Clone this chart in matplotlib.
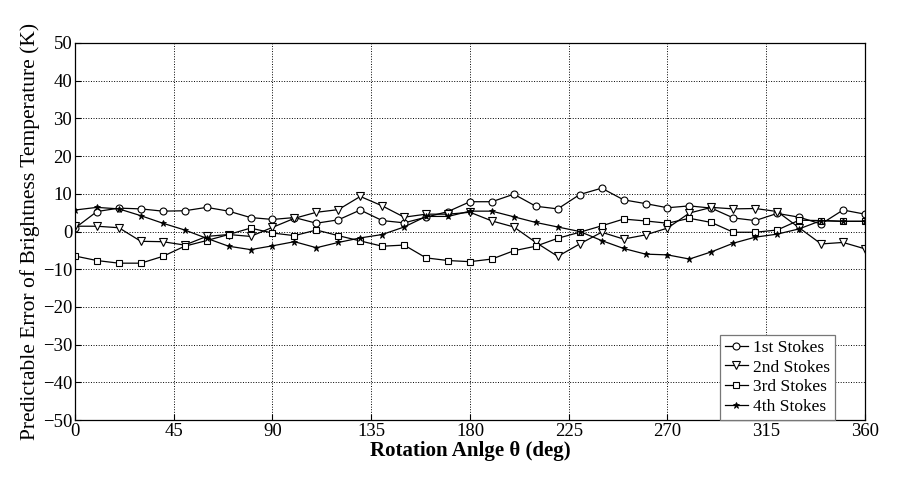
import matplotlib
matplotlib.use("Agg")
import matplotlib.pyplot as plt
import numpy as np

angles = list(range(0, 361, 10))

stokes1 = [0.9, 5.3, 6.2, 6.0, 5.4, 5.5, 6.4, 5.4, 3.7, 3.2,
           3.7, 2.2, 3.1, 5.7, 2.9, 2.3, 3.8, 5.3, 7.9, 7.9,
           9.9, 6.7, 6.0, 9.8, 11.5, 8.4, 7.4, 6.3, 6.8, 6.2,
           3.6, 2.9, 4.8, 3.8, 2.0, 5.7, 4.6]
stokes2 = [1.4, 1.4, 1.0, -2.6, -2.7, -3.6, -1.3, -0.8, -1.3, 1.1,
           3.5, 5.1, 5.8, 9.3, 6.8, 3.8, 4.6, 4.6, 5.1, 2.8,
           1.2, -2.9, -6.6, -3.3, -0.2, -2.0, -0.9, 0.9, 4.9, 6.4,
           6.0, 6.1, 5.3, 1.0, -3.3, -2.9, -4.6]
stokes3 = [-6.5, -7.7, -8.4, -8.4, -6.6, -3.9, -2.4, -0.8, 0.9, -0.4,
           -1.1, 0.4, -1.1, -2.5, -3.9, -3.6, -7.0, -7.7, -8.0, -7.3,
           -5.1, -3.9, -1.8, -0.2, 1.5, 3.3, 2.8, 2.2, 3.5, 2.4,
           -0.2, -0.2, 0.4, 3.0, 2.9, 2.7, 2.7]
stokes4 = [5.7, 6.4, 6.0, 4.2, 2.2, 0.4, -1.8, -3.9, -4.8, -3.8,
           -2.7, -4.3, -2.9, -1.7, -0.8, 1.2, 4.0, 4.0, 5.4, 5.4,
           3.9, 2.4, 1.2, 0.0, -2.4, -4.5, -6.0, -6.2, -7.3, -5.4,
           -3.1, -1.5, -0.7, 0.7, 2.9, 2.7, 2.7]

labels = ["1st Stokes", "2nd Stokes", "3rd Stokes", "4th Stokes"]
xticks = [0, 45, 90, 135, 180, 225, 270, 315, 360]
yticks = list(range(-50, 51, 10))

plt.rcParams['font.family'] = ['Liberation Serif', 'DejaVu Serif']

fig = plt.figure(figsize=(8.97, 4.88), dpi=100)
ax = fig.add_axes([0.0836, 0.1393, 0.8807, 0.7726])

common = dict(color='black', linewidth=0.9)
ax.plot(angles, stokes1, marker='o', markersize=5, markerfacecolor='white',
        markeredgecolor='black', markeredgewidth=0.8, label=labels[0], **common)
ax.plot(angles, stokes2, marker='v', markersize=6, markerfacecolor='white',
        markeredgecolor='black', markeredgewidth=0.8, label=labels[1], **common)
ax.plot(angles, stokes3, marker='s', markersize=4.5, markerfacecolor='white',
        markeredgecolor='black', markeredgewidth=0.8, label=labels[2], **common)
ax.plot(angles, stokes4, marker='*', markersize=4.5, markerfacecolor='black',
        markeredgecolor='black', markeredgewidth=0.6, label=labels[3], **common)

ax.set_xlim(0, 360)
ax.set_ylim(-50, 50)
ax.set_xticks(xticks)
ax.set_yticks(yticks)
ax.tick_params(labelsize=13.5, direction='in', length=4, width=0.8, pad=2)
ax.grid(True, linestyle=':', color='black', linewidth=0.7)
for s in ax.spines.values():
    s.set_linewidth(0.9)

ax.set_xlabel('Rotation Anlge θ (deg)', fontsize=15, fontweight='bold', labelpad=1)
ax.set_ylabel('Predictable Error of Brightness Temperature (K)', fontsize=15.5, labelpad=2)

leg = ax.legend(loc='lower right', bbox_to_anchor=(0.962, 0.0), borderaxespad=0,
                fontsize=12.5, fancybox=False, framealpha=1, edgecolor='#777777',
                handlelength=1.3, handletextpad=0.3, labelspacing=0.2,
                borderpad=0.3)
leg.get_frame().set_linewidth(0.9)

fig.savefig('out.png', dpi=100)
